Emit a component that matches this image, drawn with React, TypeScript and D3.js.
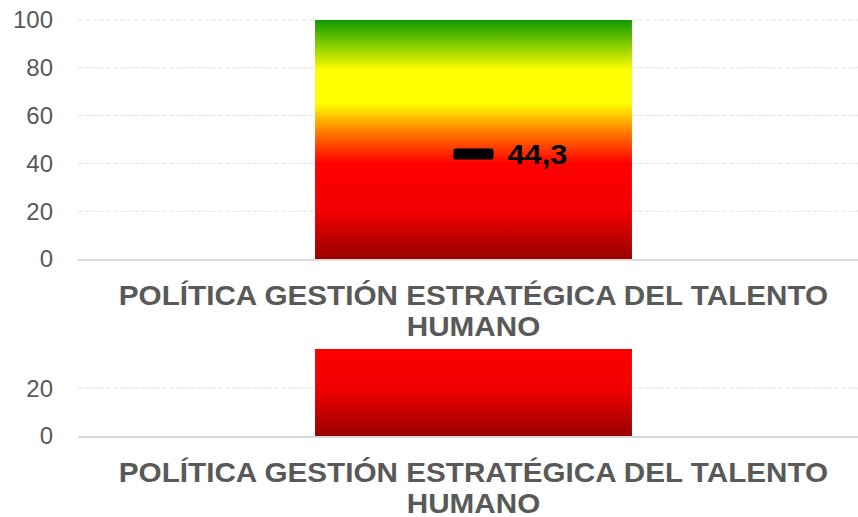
import * as d3 from 'd3';
import { useRef, useEffect } from 'react';

const categories = ['POLÍTICA GESTIÓN ESTRATÉGICA DEL TALENTO HUMANO'];
const labelLines = [['POLÍTICA GESTIÓN ESTRATÉGICA DEL TALENTO', 'HUMANO']];
const rangeValues = [100];
const scoreValues = [44.3];
const yTicks = [0, 20, 40, 60, 80, 100];
const gradientStops = [
  { offset: '0%', color: '#0d9a00' },
  { offset: '21%', color: '#ffff00' },
  { offset: '35%', color: '#ffff00' },
  { offset: '47%', color: '#ff7a00' },
  { offset: '60%', color: '#ff0000' },
  { offset: '80%', color: '#f20000' },
  { offset: '100%', color: '#990000' },
];

const App = () => {
  const svgRef = useRef(null);

  useEffect(() => {
    document.body.style.margin = '0';
    const width = 858;
    const height = 517;
    const clipTop = 349;
    const svg = d3.select(svgRef.current);
    svg.attr('width', width).attr('height', height);
    svg.selectAll('*').remove();

    const defs = svg.append('defs');
    const grad = defs.append('linearGradient')
      .attr('id', 'barGrad')
      .attr('x1', 0).attr('y1', 0).attr('x2', 0).attr('y2', 1);
    grad.selectAll('stop')
      .data(gradientStops)
      .enter().append('stop')
      .attr('offset', d => d.offset)
      .attr('stop-color', d => d.color);

    defs.append('clipPath').attr('id', 'clipLower')
      .append('rect')
      .attr('x', 0).attr('y', clipTop).attr('width', width).attr('height', height - clipTop);

    const x = d3.scaleBand()
      .domain(categories)
      .range([78, 869])
      .paddingInner(0)
      .paddingOuter(0.748);

    const font = '"Liberation Sans", Arial, sans-serif';

    // draws one copy of the chart, zero line at baseY; minY hides texts that would be clipped anyway
    const drawChart = (g, baseY, minY) => {
      const y = d3.scaleLinear().domain([0, 100]).range([baseY, baseY - 239]);

      g.selectAll('.grid')
        .data(yTicks.filter(t => t !== 0 && y(t) > minY))
        .enter().append('line')
        .attr('x1', 78).attr('x2', width)
        .attr('y1', d => y(d)).attr('y2', d => y(d))
        .attr('stroke', '#e3e3e3')
        .attr('stroke-dasharray', '5,2');

      g.selectAll('.tick')
        .data(yTicks.filter(t => y(t) > minY))
        .enter().append('text')
        .attr('x', 53)
        .attr('y', d => y(d))
        .attr('dy', '0.35em')
        .attr('text-anchor', 'end')
        .style('font-family', font)
        .style('font-size', '24px')
        .attr('fill', '#595959')
        .text(d => d);

      g.selectAll('.bar')
        .data(categories)
        .enter().append('rect')
        .attr('x', d => x(d))
        .attr('y', (d, i) => y(rangeValues[i]))
        .attr('width', x.bandwidth())
        .attr('height', (d, i) => y(0) - y(rangeValues[i]))
        .attr('fill', 'url(#barGrad)');

      g.append('line')
        .attr('x1', 78).attr('x2', width)
        .attr('y1', baseY + 1).attr('y2', baseY + 1)
        .attr('stroke', '#d9d9d9')
        .attr('stroke-width', 2);

      categories.forEach((c, i) => {
        const cx = x(c) + x.bandwidth() / 2;
        const sy = y(scoreValues[i]);
        if (sy > minY) {
          g.append('rect')
            .attr('x', cx - 20)
            .attr('y', sy - 4.5)
            .attr('width', 40)
            .attr('height', 11)
            .attr('rx', 2)
            .attr('fill', '#000');
          g.append('text')
            .attr('transform', `translate(${cx + 34},${sy + 1}) scale(1.1,1)`)
            .attr('dy', '0.36em')
            .style('font-family', font)
            .style('font-size', '28px')
            .style('font-weight', 'bold')
            .attr('fill', '#000')
            .text(String(scoreValues[i]).replace('.', ','));
        }

        g.selectAll('.cat')
          .data(labelLines[i])
          .enter().append('text')
          .attr('transform', (d, j) => `translate(${cx},${baseY + 46 + j * 31}) scale(1.06,1)`)
          .attr('text-anchor', 'middle')
          .style('font-family', font)
          .style('font-size', '28px')
          .style('font-weight', 'bold')
          .attr('fill', '#595959')
          .text(d => d);
      });
    };

    drawChart(svg.append('g'), 259, 0);
    drawChart(svg.append('g').attr('clip-path', 'url(#clipLower)'), 436, clipTop);
  }, []);

  return (
    <div>
      <svg ref={svgRef} style={{ display: 'block' }}></svg>
    </div>
  );
};

export default App;
